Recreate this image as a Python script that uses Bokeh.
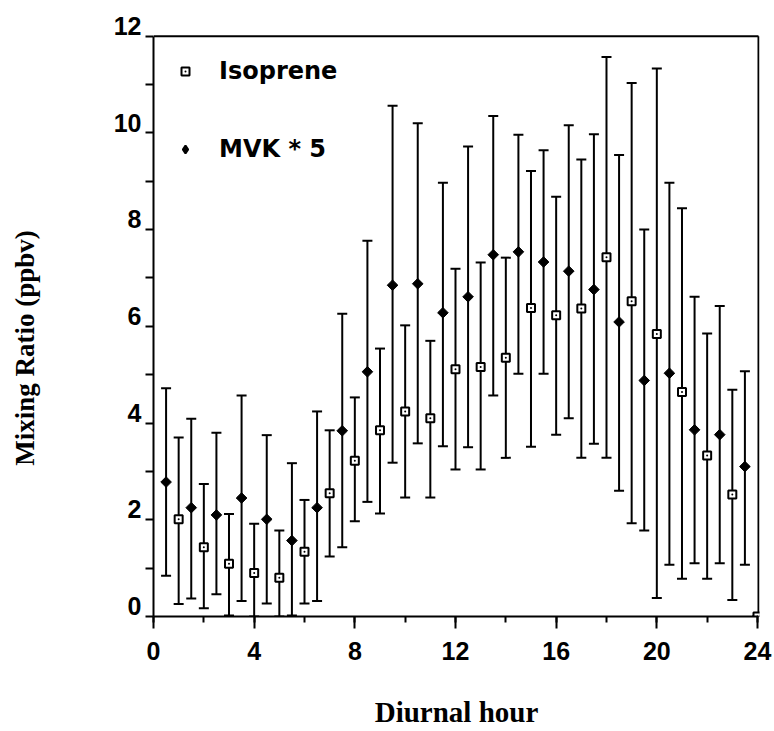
import math
from bokeh.plotting import figure
from bokeh.models import FixedTicker, Legend, LegendItem, Range1d
from bokeh.embed import file_html
from bokeh.resources import INLINE

# ---- data ----
iso_hour = [1, 2, 3, 4, 5, 6, 7, 8, 9, 10, 11, 12,
            13, 14, 15, 16, 17, 18, 19, 20, 21, 22, 23, 24]
iso = [2.01, 1.43, 1.09, 0.90, 0.80, 1.34, 2.55, 3.22, 3.85, 4.24, 4.10, 5.11,
       5.16, 5.35, 6.38, 6.23, 6.37, 7.43, 6.52, 5.84, 4.64, 3.33, 2.52, 0.0]
iso_hi = [3.70, 2.74, 2.12, 1.92, 1.78, 2.41, 3.85, 4.53, 5.54, 6.02, 5.70, 7.19,
          7.32, 7.42, 9.21, 8.68, 9.45, 11.57, 11.03, 11.33, 8.44, 5.85, 4.69, 0.0]
iso_lo = [0.26, 0.17, 0.02, 0.0, 0.0, 0.27, 1.24, 1.97, 2.13, 2.46, 2.46, 3.04,
          3.04, 3.28, 3.51, 3.76, 3.28, 3.28, 1.93, 0.38, 0.78, 0.78, 0.34, 0.0]

mvk_hour = [0.5, 1.5, 2.5, 3.5, 4.5, 5.5, 6.5, 7.5, 8.5, 9.5, 10.5, 11.5,
            12.5, 13.5, 14.5, 15.5, 16.5, 17.5, 18.5, 19.5, 20.5, 21.5, 22.5, 23.5]
mvk = [2.78, 2.25, 2.10, 2.45, 2.01, 1.57, 2.25, 3.84, 5.06, 6.85, 6.88, 6.28,
       6.61, 7.48, 7.54, 7.33, 7.14, 6.76, 6.09, 4.88, 5.03, 3.86, 3.76, 3.10]
mvk_hi = [4.72, 4.09, 3.80, 4.57, 3.75, 3.17, 4.24, 6.26, 7.77, 10.56, 10.20, 8.97,
          9.72, 10.35, 9.96, 9.64, 10.16, 9.97, 9.54, 8.00, 8.97, 6.61, 6.42, 5.07]
mvk_lo = [0.84, 0.37, 0.46, 0.32, 0.27, 0.02, 0.32, 1.43, 2.37, 3.18, 3.58, 3.52,
          3.50, 4.57, 5.02, 5.02, 4.10, 3.57, 2.60, 1.78, 1.07, 1.10, 1.10, 1.07]

x_ticks = [0, 4, 8, 12, 16, 20, 24]
x_minor = [0, 2, 4, 6, 8, 10, 12, 14, 16, 18, 20, 22, 24]
y_ticks = [0, 2, 4, 6, 8, 10, 12]
y_minor = [0, 1, 2, 3, 4, 5, 6, 7, 8, 9, 10, 11, 12]
y_tick_labels = ["0", "2", "4", "6", "8", "10", "12"]

series_names = ["Isoprene", "MVK * 5"]
x_title = "Diurnal hour"
y_title = "Mixing Ratio (ppbv)"

TICK_FONT = "Liberation Sans"
TITLE_FONT = "Liberation Serif"

# box of the original plot: x 0..24, y 0..12; the frame is a little taller so
# that the y tick labels can sit just above their ticks, as in the original
X_END, Y_END = 24.04, 12.0
LABEL_LIFT = 0.213   # y tick labels are bottom-aligned on their tick

p = figure(width=774, height=731,
           x_range=Range1d(0, 24.08), y_range=Range1d(0, 12.22),
           output_backend="svg", toolbar_location=None,
           min_border_left=153, min_border_right=15,
           min_border_top=25, min_border_bottom=115)
p.background_fill_color = "white"
p.border_fill_color = "white"
p.xgrid.visible = False
p.ygrid.visible = False
p.outline_line_color = None

# top and right edges of the plot box
p.segment(x0=[0, X_END], y0=[Y_END, 0], x1=[X_END, X_END], y1=[Y_END, Y_END],
          line_color="black", line_width=2)

# ---- axes ----
xa = p.xaxis[0]
xa.ticker = FixedTicker(ticks=x_ticks, minor_ticks=x_minor)
xa.bounds = (0, X_END)
xa.axis_line_width = 2
xa.major_tick_line_width = 2
xa.minor_tick_line_width = 2
xa.major_tick_out = 12
xa.major_tick_in = 0
xa.minor_tick_out = 6
xa.minor_tick_in = 0
xa.major_label_standoff = 13
xa.major_label_text_font = TICK_FONT
xa.major_label_text_font_style = "bold"
xa.major_label_text_font_size = "25px"
xa.major_label_text_color = "black"
xa.axis_label = x_title
xa.axis_label_standoff = 33
xa.axis_label_text_font = TITLE_FONT
xa.axis_label_text_font_style = "bold"
xa.axis_label_text_font_size = "29px"
xa.axis_label_text_color = "black"

ya = p.yaxis[0]
shifted = [t + LABEL_LIFT for t in y_ticks]
ya.ticker = FixedTicker(ticks=shifted, minor_ticks=y_minor)
ya.major_label_overrides = {s: lab for s, lab in zip(shifted, y_tick_labels)}
ya.bounds = (0, Y_END)
ya.axis_line_width = 2
ya.major_tick_out = 0
ya.major_tick_in = 0
ya.major_tick_line_alpha = 0
ya.minor_tick_line_width = 2
ya.minor_tick_out = 8
ya.minor_tick_in = 0
ya.major_label_standoff = 4
ya.major_label_text_font = TICK_FONT
ya.major_label_text_font_style = "bold"
ya.major_label_text_font_size = "25px"
ya.major_label_text_color = "black"
ya.axis_label = y_title + "\u00a0" * 8
ya.axis_label_standoff = 71
ya.axis_label_text_font = TITLE_FONT
ya.axis_label_text_font_style = "bold"
ya.axis_label_text_font_size = "27px"
ya.axis_label_text_color = "black"

# ---- error bars ----
for xs, lo, hi in ((mvk_hour, mvk_lo, mvk_hi), (iso_hour, iso_lo, iso_hi)):
    p.segment(x0=xs, y0=lo, x1=xs, y1=hi, line_color="black", line_width=2)
    p.scatter(x=xs + xs, y=lo + hi, marker="dash", size=10,
              line_color="black", line_width=2)

# ---- markers ----
# small diamonds (used as the legend swatch; legend swatches are never rotated),
# fully covered by the rotated-square MVK markers drawn on top of them
r_mvk_key = p.scatter(x=mvk_hour, y=mvk, marker="diamond", size=4,
                      fill_color="black", line_color="black", line_width=2)
p.scatter(x=mvk_hour, y=mvk, marker="square", angle=math.pi / 4, size=7.5,
          fill_color="black", line_color="black", line_width=1)
r_iso = p.scatter(x=iso_hour, y=iso, marker="square_dot", size=8,
                  fill_color="white", line_color="black", line_width=2)

legend = Legend(items=[LegendItem(label=series_names[0], renderers=[r_iso]),
                       LegendItem(label=series_names[1], renderers=[r_mvk_key])],
                location="top_left", margin=22, padding=0,
                glyph_width=20, glyph_height=48, spacing=30,
                label_standoff=24,
                label_text_font="DejaVu Sans", label_text_font_style="bold",
                label_text_font_size="24px", label_text_color="black",
                border_line_color=None, background_fill_alpha=0)
p.add_layout(legend)

open("out.html", "w").write(file_html(p, INLINE))
